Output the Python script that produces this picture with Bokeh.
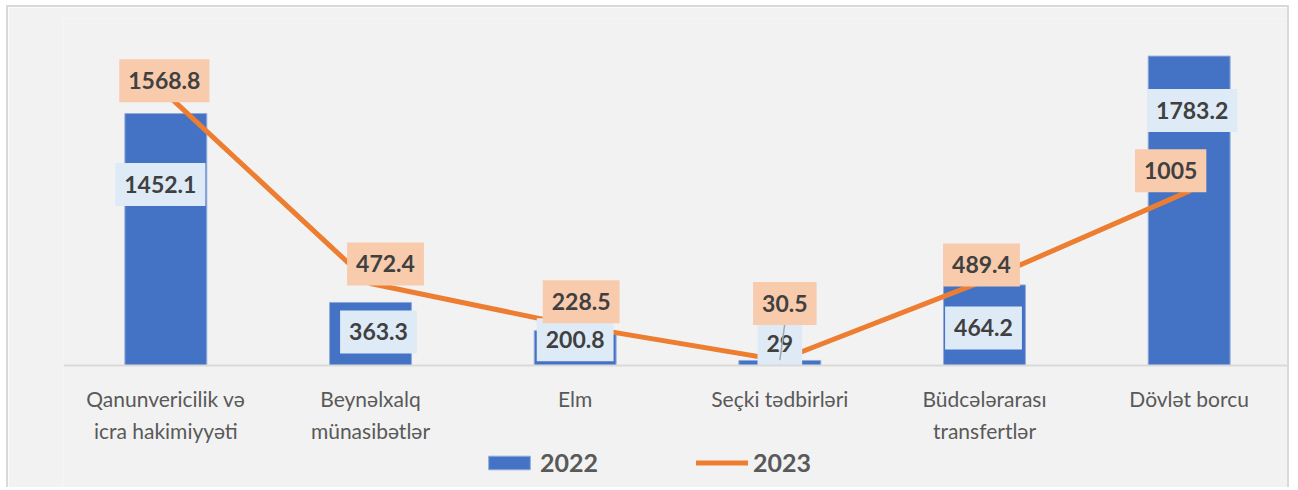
from bokeh.plotting import figure
from bokeh.models import Range1d, FixedTicker, Legend, LegendItem, ColumnDataSource, LinearAxis
from bokeh.core.properties import value
from bokeh.embed import file_html
from bokeh.resources import INLINE

# ---- data ----
categories = ["Qanunvericilik və\nicra hakimiyyəti", "Beynəlxalq\nmünasibətlər", "Elm",
              "Seçki tədbirləri", "Büdcələrarası\ntransfertlər", "Dövlət borcu"]
values_2022 = [1452.1, 363.3, 200.8, 29.0, 464.2, 1783.2]
values_2023 = [1568.8, 472.4, 228.5, 30.5, 489.4, 1005.0]
labels_2022 = ["1452.1", "363.3", "200.8", "29", "464.2", "1783.2"]
labels_2023 = ["1568.8", "472.4", "228.5", "30.5", "489.4", "1005"]

# ---- label placement (screen px offsets, positive = down) ----
off_x_2022 = [-5.5, 8, 0, 0, -1, 3]
off_y_2022 = [71, 29.5, 9, -16.5, 43, 54.5]
off_x_2023 = [-1.5, 15, 6, 5, -3, -18.5]
off_y_2023 = [-12.6, -19.6, -24, -56.7, -15.7, -20.4]

idx = list(range(len(categories)))

W, H = 1283, 482
ML, MR, MT, MB = 55, 0, 11, 0
YMAX = 2000
AXIS_PX = 347  # pixels from frame top to the value axis (y = 0)
frame_h = H - MT - MB
frame_w = W - ML - MR
YMIN = -YMAX * (frame_h - AXIS_PX) / AXIS_PX

BG = "#f2f2f2"
p = figure(width=W, height=H, x_range=Range1d(-0.5, len(categories) - 0.5),
           y_range=Range1d(YMIN, YMAX), output_backend="svg", toolbar_location=None,
           x_axis_location=None, y_axis_location=None,
           min_border_left=ML, min_border_right=MR, min_border_top=MT, min_border_bottom=MB,
           background_fill_color=BG, border_fill_color=BG, outline_line_color=None)
p.styles = {"border-left": "2px solid #d9d9d9", "border-top": "2px solid #d9d9d9",
            "border-right": "2px solid #d9d9d9", "margin-left": "6px", "margin-top": "5px"}

p.xgrid.visible = False
p.ygrid.visible = False

xa = LinearAxis(fixed_location=0)
xa.ticker = FixedTicker(ticks=idx)
xa.major_label_overrides = {i: c for i, c in zip(idx, categories)}
xa.axis_line_color = "#d9d9d9"
xa.axis_line_width = 2
xa.major_tick_line_color = None
xa.minor_tick_line_color = None
xa.major_label_text_font = "Lato"
xa.major_label_text_font_size = "21px"
xa.major_label_text_color = "#595959"
xa.major_label_text_line_height = 1.3
xa.major_label_standoff = 14
p.add_layout(xa, "below")

src = ColumnDataSource(dict(x=idx, v22=values_2022, v23=values_2023,
                            l22=labels_2022, l23=labels_2023,
                            ox22=off_x_2022, oy22=off_y_2022,
                            ox23=off_x_2023, oy23=off_y_2023))

bars = p.vbar(x="x", top="v22", bottom=0, width=0.4, source=src, fill_color="#4472c4",
              line_color="#8faadc", line_width=1)
line = p.line(x="x", y="v23", source=src, line_color="#ed7d31", line_width=5,
              line_cap="round", line_join="round")

p.text(x="x", y="v22", text="l22", x_offset="ox22", y_offset="oy22", source=src,
       text_font=value("Lato"), text_font_style="bold", text_font_size="23px",
       text_color="#404040", text_align="center", text_baseline="middle",
       background_fill_color="#deebf7", padding=(9, 13))

# leader line for the small "Seçki tədbirləri" 2023 label
px_per_y = AXIS_PX / YMAX
px_per_x = frame_w / len(categories)
k = 3
leader_x1 = idx[k] + off_x_2023[k] / px_per_x
leader_y1 = values_2023[k] + (-off_y_2023[k] - 20) / px_per_y
p.segment(x0=[idx[k]], y0=[values_2023[k]], x1=[leader_x1], y1=[leader_y1],
          line_color="#a6a6a6", line_width=1.5)

p.text(x="x", y="v23", text="l23", x_offset="ox23", y_offset="oy23", source=src,
       text_font=value("Lato"), text_font_style="bold", text_font_size="23px",
       text_color="#404040", text_align="center", text_baseline="middle",
       background_fill_color="#f8cbad", padding=(9, 13))

legend = Legend(items=[LegendItem(label="2022", renderers=[bars]),
                       LegendItem(label="2023", renderers=[line])],
                orientation="horizontal", location=(420, 12),
                glyph_width=52, glyph_height=17, label_standoff=5, spacing=98,
                label_text_font="Lato", label_text_font_style="bold",
                label_text_font_size="25px", label_text_color="#595959",
                background_fill_alpha=0, border_line_color=None, padding=0, margin=0)
p.add_layout(legend, "center")

open("out.html", "w").write(file_html(p, INLINE))
